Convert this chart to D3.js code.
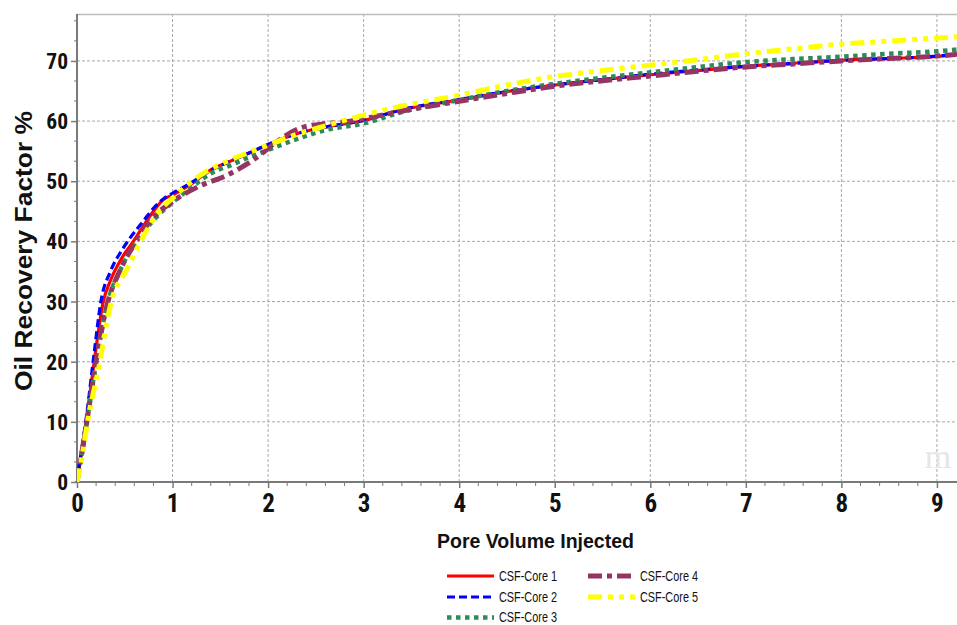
<!DOCTYPE html>
<html>
<head>
<meta charset="utf-8">
<script src="https://cdn.jsdelivr.net/npm/d3@7"></script>
<style>
  html, body { margin: 0; padding: 0; background: #fff; }
  svg { display: block; }
  .tick-lbl { font-family: "Liberation Sans Narrow", "Arial Narrow", "Roboto Condensed", "Liberation Sans", Arial, sans-serif; font-weight: bold; fill: #111; }
  .axis-title { font-family: "Liberation Sans", Arial, sans-serif; font-weight: bold; fill: #111; }
  .leg { font-family: "Liberation Sans Narrow", "Arial Narrow", "Liberation Sans", Arial, sans-serif; fill: #111; }
</style>
</head>
<body>
<svg id="chart" width="957" height="625"></svg>
<script>
// ---- data ----
const seriesNames = ["CSF-Core 1", "CSF-Core 2", "CSF-Core 3", "CSF-Core 4", "CSF-Core 5"];

const core1X = [0, 0.02, 0.05, 0.1, 0.18, 0.275, 0.35, 0.46, 0.59, 0.68, 0.8, 0.9, 1.0, 1.2, 1.4, 1.6, 1.8, 2.0, 2.3, 2.6, 3.0, 3.4, 4.0, 4.5, 5.0, 5.5, 6.0, 6.5, 7.0, 7.5, 8.0, 8.5, 9.0, 9.21];
const core1Y = [0, 2, 5, 10.5, 20, 30, 33.5, 37, 40, 42.2, 45, 46.9, 47.7, 49.6, 51.9, 53.3, 54.7, 56.1, 57.9, 59.0, 60.1, 61.9, 63.5, 64.9, 66.0, 66.9, 67.7, 68.4, 69.1, 69.6, 70.1, 70.4, 70.75, 71.1];

const core2X = [0, 0.02, 0.05, 0.1, 0.18, 0.25, 0.35, 0.46, 0.53, 0.7, 0.8, 0.9, 1.0, 1.2, 1.4, 1.6, 1.8, 2.0, 2.3, 2.6, 3.0, 3.4, 4.0, 4.5, 5.0, 5.5, 6.0, 6.5, 7.0, 7.5, 8.0, 8.5, 9.0, 9.21];
const core2Y = [0, 2.5, 5.5, 11, 21.5, 30, 35, 38.3, 40, 43.5, 45.5, 47, 48, 49.8, 51.8, 53.3, 54.7, 56.1, 57.9, 59.0, 60.1, 61.9, 63.6, 64.9, 66.0, 66.9, 67.8, 68.5, 69.1, 69.6, 70.1, 70.4, 70.8, 71.1];

const core3X = [0, 0.02, 0.05, 0.1, 0.2, 0.3, 0.46, 0.6, 0.8, 1.0, 1.2, 1.4, 1.6, 1.8, 2.0, 2.3, 2.6, 3.0, 3.4, 4.0, 4.5, 5.0, 5.5, 6.0, 6.5, 7.0, 7.5, 8.0, 8.5, 9.0, 9.21];
const core3Y = [0, 1.8, 4.5, 9.5, 20, 28.5, 35.5, 39.5, 43.5, 46.5, 49, 51.3, 52.6, 54, 55.2, 57, 58.5, 59.6, 61.5, 63.5, 65.0, 66.2, 67.2, 68.1, 69.0, 69.8, 70.3, 70.7, 71.2, 71.6, 71.9];

const core4X = [0, 0.02, 0.05, 0.1, 0.2, 0.3, 0.46, 0.6, 0.8, 1.0, 1.27, 1.57, 1.84, 2.12, 2.33, 2.61, 2.82, 3.03, 3.38, 4.0, 4.5, 5.0, 5.5, 6.0, 6.5, 7.0, 7.5, 8.0, 8.5, 9.0, 9.21];
const core4Y = [0, 1.8, 4.8, 9.8, 20, 28.5, 35.5, 39.5, 44, 46.6, 49.1, 51.0, 53.5, 56.9, 58.8, 59.6, 59.9, 60.5, 61.6, 63.3, 64.6, 65.8, 66.7, 67.5, 68.3, 69.0, 69.5, 70.0, 70.4, 70.8, 71.1];

const core5X = [0, 0.02, 0.05, 0.11, 0.24, 0.31, 0.36, 0.52, 0.65, 0.87, 1.0, 1.32, 1.5, 1.8, 2.0, 2.3, 2.6, 3.0, 3.4, 4.0, 4.5, 5.0, 5.5, 6.0, 6.5, 7.0, 7.5, 8.0, 8.5, 9.0, 9.21];
const core5Y = [0, 1.5, 4, 10, 20, 26.4, 30, 35.3, 39.5, 45.2, 47.2, 51.3, 52.8, 54.8, 56.0, 57.8, 59.2, 61.0, 62.5, 64.3, 66.0, 67.4, 68.4, 69.3, 70.2, 71.2, 72.0, 72.8, 73.3, 73.8, 74.0];

const xTicks = [0, 1, 2, 3, 4, 5, 6, 7, 8, 9];
const yTicks = [0, 10, 20, 30, 40, 50, 60, 70];

// ---- build ----
const svg = d3.select("#chart");
const m = { left: 77, top: 14, right: 957, bottom: 482 };
const x = d3.scaleLinear().domain([0, 9.21]).range([m.left, m.right]);
const y = d3.scaleLinear().domain([0, 77.8]).range([m.bottom, m.top]);

// gridlines
const g = svg.append("g");
g.selectAll(".vg").data(xTicks.filter(d => d > 0)).join("line")
  .attr("x1", d => x(d)).attr("x2", d => x(d)).attr("y1", m.top).attr("y2", m.bottom)
  .attr("stroke", "#a8a8a8").attr("stroke-width", 1).attr("stroke-dasharray", "3,2");
g.selectAll(".hg").data(yTicks.filter(d => d > 0)).join("line")
  .attr("x1", m.left).attr("x2", m.right).attr("y1", d => y(d)).attr("y2", d => y(d))
  .attr("stroke", "#a8a8a8").attr("stroke-width", 1).attr("stroke-dasharray", "3,2");

// top border
svg.append("line").attr("x1", m.left).attr("x2", m.right).attr("y1", m.top + 0.5).attr("y2", m.top + 0.5)
  .attr("stroke", "#bdbdbd").attr("stroke-width", 1.5);

// minor ticks
const xMinor = d3.range(0, 46).map(i => i * 0.2).filter(v => Math.abs(v - Math.round(v)) > 1e-6 && v <= 9.21);
const yMinor = d3.range(0, 24).map(i => i * 10 / 3).filter(v => Math.abs(v / 10 - Math.round(v / 10)) > 1e-6 && v <= 77.8);

svg.selectAll(".xm").data(xMinor).join("line")
  .attr("x1", d => x(d)).attr("x2", d => x(d)).attr("y1", m.bottom).attr("y2", m.bottom + 4)
  .attr("stroke", "#7a7a7a").attr("stroke-width", 1);
svg.selectAll(".ym").data(yMinor).join("line")
  .attr("x1", m.left - 3).attr("x2", m.left).attr("y1", d => y(d)).attr("y2", d => y(d))
  .attr("stroke", "#7a7a7a").attr("stroke-width", 1);

// axes
const xAxis = d3.axisBottom(x).tickValues(xTicks).tickSize(6).tickPadding(3).tickFormat(d3.format("d"));
const yAxis = d3.axisLeft(y).tickValues(yTicks).tickSize(6).tickPadding(3).tickFormat(d3.format("d"));

const gx = svg.append("g").attr("transform", `translate(0,${m.bottom})`).call(xAxis);
gx.select(".domain").attr("stroke", "#7a7a7a").attr("stroke-width", 2).attr("d", `M${m.left - 2},0H${m.right}`);
gx.selectAll(".tick line").attr("stroke", "#7a7a7a").attr("stroke-width", 1.5);
gx.selectAll(".tick text").attr("class", "tick-lbl").style("font-size", "25px").attr("dy", "0.82em");

const gy = svg.append("g").attr("transform", `translate(${m.left},0)`).call(yAxis);
gy.select(".domain").attr("stroke", "#7a7a7a").attr("stroke-width", 2).attr("d", `M0,${m.top}V${m.bottom + 1}`);
gy.selectAll(".tick line").attr("stroke", "#7a7a7a").attr("stroke-width", 1.5);
gy.selectAll(".tick text").attr("class", "tick-lbl").style("font-size", "21.5px").attr("dy", "0.35em");

// axis titles
svg.append("text").attr("class", "axis-title").attr("x", 535.5).attr("y", 548)
  .attr("text-anchor", "middle").style("font-size", "20px")
  .attr("textLength", 197).attr("lengthAdjust", "spacingAndGlyphs").text("Pore Volume Injected");
svg.append("text").attr("class", "axis-title")
  .attr("transform", `translate(32,251) rotate(-90)`)
  .attr("text-anchor", "middle").style("font-size", "23px")
  .attr("textLength", 280).attr("lengthAdjust", "spacingAndGlyphs").text("Oil Recovery Factor %");

// watermark
svg.append("text").attr("x", 938).attr("y", 468).attr("text-anchor", "middle")
  .style("font-family", "Liberation Serif, serif").style("font-size", "34px").style("fill", "#e6e6e6")
  .text("m");

// series
const styles = [
  { color: "#ff0000", width: 3.2, dash: null },
  { color: "#0000ff", width: 3.2, dash: "8,4" },
  { color: "#2e8b57", width: 4.5, dash: "4.5,4.5" },
  { color: "#953564", width: 5, dash: "14,5,5,5" },
  { color: "#ffff00", width: 5, dash: "14,6,5,6,5,6" }
];
const xs = [core1X, core2X, core3X, core4X, core5X];
const ys = [core1Y, core2Y, core3Y, core4Y, core5Y];
const line = d3.line().x(d => x(d[0])).y(d => y(d[1])).curve(d3.curveMonotoneX);

svg.append("clipPath").attr("id", "clip").append("rect")
  .attr("x", m.left).attr("y", m.top).attr("width", m.right - m.left).attr("height", m.bottom - m.top);

const plot = svg.append("g").attr("clip-path", "url(#clip)");
seriesNames.forEach((name, i) => {
  const pts = xs[i].map((v, j) => [v, ys[i][j]]);
  plot.append("path").datum(pts).attr("d", line)
    .attr("fill", "none").attr("stroke", styles[i].color).attr("stroke-width", styles[i].width)
    .attr("stroke-dasharray", styles[i].dash).attr("stroke-linejoin", "round");
});

// legend
const legPos = [
  { lx: 447, ly: 576 }, { lx: 447, ly: 597 }, { lx: 447, ly: 617.5 },
  { lx: 588, ly: 576 }, { lx: 588, ly: 597 }
];
seriesNames.forEach((name, i) => {
  const p = legPos[i];
  svg.append("line").attr("x1", p.lx).attr("x2", p.lx + 47).attr("y1", p.ly).attr("y2", p.ly)
    .attr("stroke", styles[i].color).attr("stroke-width", styles[i].width)
    .attr("stroke-dasharray", styles[i].dash);
  svg.append("text").attr("class", "leg").attr("x", p.lx + 52).attr("y", p.ly + 4.5)
    .style("font-size", "14px").attr("textLength", 58).attr("lengthAdjust", "spacingAndGlyphs").text(name);
});
</script>
</body>
</html>
